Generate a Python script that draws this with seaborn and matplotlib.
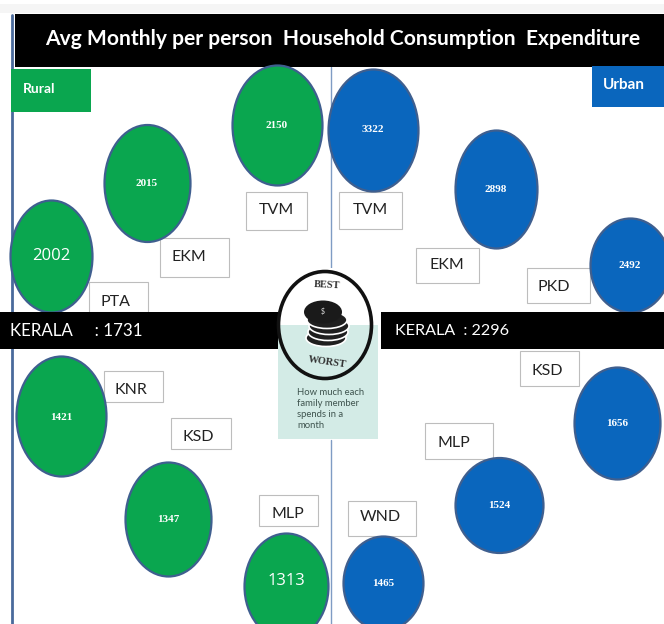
import matplotlib
matplotlib.use("Agg")
import matplotlib.pyplot as plt
from matplotlib.patches import Rectangle, Ellipse
from matplotlib.path import Path
from matplotlib.transforms import Affine2D
import pandas as pd
import seaborn as sns

sns.set_style("white")
plt.rcParams['font.family'] = ['Lato', 'DejaVu Sans']

GREEN = "#0aa64f"
BLUE = "#0a66bd"
EDGE = "#3f5f8f"

# values
rural_labels = ["TVM", "EKM", "PTA", "KNR", "KSD", "MLP"]
rural_values = [2150, 2015, 2002, 1421, 1347, 1313]
urban_labels = ["TVM", "EKM", "PKD", "KSD", "MLP", "WND"]
urban_values = [3322, 2898, 2492, 1656, 1524, 1465]
kerala_rural = 1731
kerala_urban = 2296

# layout of the infographic, in reference pixels
rural_x = [277, 147, 51, 61, 168, 286]
rural_y = [125, 183, 256, 416, 519, 586]
rural_w = [90, 86, 82, 90, 86, 84]
rural_h = [120, 117, 112, 120, 114, 106]
rural_font = [8, 8, 12, 8, 8, 12]
rural_text_y = [125, 183, 256, 417, 519, 581]
rural_boxes = [(246, 192, 61, 38), (160, 238, 69, 39), (89, 282, 59, 30),
               (104, 371, 59, 31), (171, 418, 60, 31), (259, 495, 59, 31)]
rural_tag_xy = [(276, 210), (189, 257), (116, 302), (131, 390), (198, 437), (288, 514)]
urban_x = [373, 496, 630, 617, 499, 383]
urban_y = [130, 189, 265, 423, 505, 583]
urban_w = [90, 82, 80, 86, 88, 80]
urban_h = [122, 118, 94, 112, 95, 94]
urban_font = [8, 8, 8, 8, 8, 8]
urban_text_y = [130, 189, 265, 423, 505, 583]
urban_boxes = [(339, 192, 63, 37), (416, 248, 63, 35), (527, 268, 63, 35),
               (520, 351, 59, 35), (425, 423, 68, 36), (348, 501, 68, 35)]
urban_tag_xy = [(370, 210), (447, 265), (554, 287), (547, 371), (454, 443), (380, 517)]


def oval(w, h):
    # markers get scaled on their longest side, so only the aspect matters here
    return Path.unit_circle().transformed(Affine2D().scale(w / h, 1))


def add_ovals(ax, xs, ys, ws, hs, values, fonts, text_y, color):
    df = pd.DataFrame({"x": xs, "y": ys, "w": ws, "h": hs, "value": values, "font": fonts, "ty": text_y})
    for _, r in df.iterrows():
        sns.scatterplot(x=[r["x"]], y=[r["y"]], ax=ax, color=color, edgecolor=EDGE,
                        linewidth=1.6, marker=oval(r["w"], r["h"]),
                        s=(r["h"] * 72 / fig.dpi) ** 2, legend=False, zorder=3)
        big = r["font"] > 10
        ax.text(r["x"], r["ty"], str(int(r["value"])), color="white", ha="center", va="center",
                fontsize=r["font"], zorder=4, fontweight="normal" if big else "bold",
                family="Open Sans" if big else "Liberation Serif")


def add_tags(ax, boxes, labels, tag_xy):
    for (x, y, w, h), lab, (tx, ty) in zip(boxes, labels, tag_xy):
        ax.add_patch(Rectangle((x, y), w, h, fc="white", ec="#bdbdbd", lw=0.8, zorder=2))
        ax.text(tx, ty, lab, ha="center", va="center", fontsize=11.5,
                color="#222222", family="Lato", zorder=2.5)


fig = plt.figure(figsize=(6.64, 6.24), dpi=100)
ax = fig.add_axes([0, 0, 1, 1])
ax.set_xlim(0, 664)
ax.set_ylim(624, 0)

# faint shadow above the slide
ax.add_patch(Rectangle((0, 4), 664, 9, fc="#f5f5f5", ec="none", zorder=0))

# frame lines
ax.plot([12, 12], [15, 624], color="#4a6a9c", lw=2, zorder=1)
ax.plot([331, 331], [67, 300], color="#7f9cc4", lw=1, zorder=1)
ax.plot([331, 331], [440, 624], color="#7f9cc4", lw=1, zorder=1)

# title band
ax.add_patch(Rectangle((15, 14), 649, 53, fc="black", ec="none", zorder=2))
ax.text(343, 39, "Avg Monthly per person  Household Consumption  Expenditure", color="white",
        ha="center", va="center", fontsize=15.1, fontweight="bold", family="Lato", zorder=5)

# rural / urban tags
ax.add_patch(Rectangle((11, 69), 80, 43, fc=GREEN, ec="none", zorder=2))
ax.text(23, 89, "Rural", color="white", va="center", fontsize=10, fontweight="bold", family="Lato")
ax.add_patch(Rectangle((592, 66), 72, 41, fc=BLUE, ec="none", zorder=2))
ax.text(603, 85, "Urban", color="white", va="center", fontsize=11, fontweight="bold", family="Lato")

add_tags(ax, rural_boxes, rural_labels, rural_tag_xy)
add_tags(ax, urban_boxes, urban_labels, urban_tag_xy)

# kerala bands
ax.add_patch(Rectangle((0, 312), 280, 37, fc="black", ec="none", zorder=3.5))
ax.add_patch(Rectangle((381, 312), 283, 37, fc="black", ec="none", zorder=3.5))
ax.text(10, 331, f"KERALA     : {kerala_rural}", color="white", va="center", fontsize=12.2,
        family="Lato", zorder=5)
ax.text(395, 331, f"KERALA  : {kerala_urban}", color="white", va="center", fontsize=11.6,
        family="Lato", zorder=5)

add_ovals(ax, rural_x, rural_y, rural_w, rural_h, rural_values, rural_font, rural_text_y, GREEN)
add_ovals(ax, urban_x, urban_y, urban_w, urban_h, urban_values, urban_font, urban_text_y, BLUE)

# centre badge
ax.add_patch(Rectangle((278, 268), 100, 57, fc="white", ec="none", zorder=6))
ax.add_patch(Rectangle((278, 325), 100, 114, fc="#d3ebe6", ec="none", zorder=6))
ax.add_patch(Ellipse((325, 325), 93, 107, fc="none", ec="#111111", lw=2.6, zorder=7))
coin_y = [338, 332, 326, 320]
coin_x = [326, 328, 329, 327]
for cx, cy in zip(coin_x, coin_y):
    ax.add_patch(Ellipse((cx, cy), 40, 17, fc="#1f1f1f", ec="white", lw=1.2, zorder=7))
ax.add_patch(Ellipse((323, 312), 38, 23, fc="#1a1a1a", ec="none", zorder=7.5))
ax.text(323, 311, "$", color="#dddddd", ha="center", va="center", fontsize=5, zorder=8)
ax.text(327, 285, "BEST", color="#333333", ha="center", va="center", fontsize=7.5,
        fontweight="bold", family="Liberation Serif", rotation=-3, zorder=8)
ax.text(327, 362, "WORST", color="#333333", ha="center", va="center", fontsize=7.5,
        fontweight="bold", family="Liberation Serif", rotation=-8, zorder=8)
ax.text(297, 409, "How much each\nfamily member\nspends in a\nmonth", color="#3f544f", ha="left",
        va="center", fontsize=6.8, linespacing=1.25, family="Lato", zorder=8)

ax.axis("off")
fig.savefig("out.png", dpi=100)
